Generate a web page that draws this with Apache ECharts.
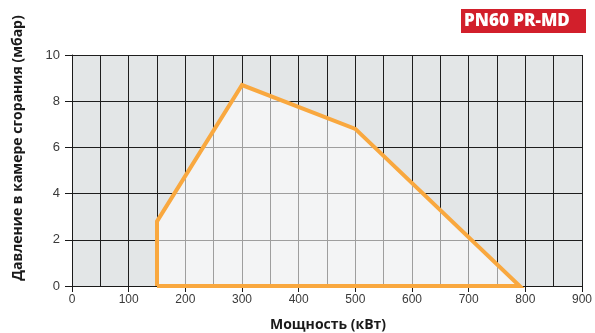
<!DOCTYPE html>
<html>
<head>
<meta charset="utf-8">
<script src="https://cdn.jsdelivr.net/npm/echarts@6/dist/echarts.min.js"></script>
<style>
  html, body { margin: 0; padding: 0; background: #ffffff; }
  #chart { width: 595px; height: 333px; }
</style>
</head>
<body>
<div id="chart"></div>
<script>
// Working field of the burner: output (kW) vs. combustion chamber pressure (mbar)
const powerKW = [150, 150, 300, 500, 790, 150];
const pressureMbar = [0, 2.8, 8.7, 6.8, 0, 0];
const xTicks = [0, 100, 200, 300, 400, 500, 600, 700, 800, 900];
const yTicks = [0, 2, 4, 6, 8, 10];
const modelName = 'PN60 PR-MD';
const xTitle = 'Мощность (кВт)';
const yTitle = 'Давление в камере сгорания (мбар)';

const fieldPoints = powerKW.map((p, i) => [p, pressureMbar[i]]);

const chart = echarts.init(document.getElementById('chart'), null, { renderer: 'canvas' });

chart.setOption({
  animation: false,
  backgroundColor: '#ffffff',
  grid: {
    left: 72, right: 11, top: 55, bottom: 47,
    show: true, backgroundColor: '#e3e6e7', borderWidth: 0
  },
  xAxis: {
    type: 'value',
    min: xTicks[0], max: xTicks[xTicks.length - 1], interval: 100,
    axisLine: { show: true, lineStyle: { color: '#1a1a1a', width: 1 } },
    axisTick: { show: true, length: 6, lineStyle: { color: '#1a1a1a' } },
    axisLabel: { color: '#3a3a3a', fontFamily: 'Liberation Sans', fontSize: 12, margin: 8 },
    splitLine: { show: true, lineStyle: { color: '#1e1e1e', width: 1 } },
    minorTick: { show: false, splitNumber: 2 },
    minorSplitLine: { show: true, lineStyle: { color: '#1e1e1e', width: 1 } }
  },
  yAxis: {
    type: 'value',
    min: yTicks[0], max: yTicks[yTicks.length - 1], interval: 2,
    axisLine: { show: true, lineStyle: { color: '#1a1a1a', width: 1 } },
    axisTick: { show: true, length: 7, lineStyle: { color: '#1a1a1a' } },
    axisLabel: { color: '#3a3a3a', fontFamily: 'Liberation Sans', fontSize: 13, margin: 12 },
    splitLine: { show: true, lineStyle: { color: '#1e1e1e', width: 1 } }
  },
  series: [{
    type: 'line',
    data: fieldPoints,
    symbol: 'none',
    lineStyle: { color: '#f9a83f', width: 4, join: 'miter' },
    areaStyle: { color: 'rgba(255,255,255,0.82)', origin: 'start' },
    z: 5
  }],
  graphic: [
    {
      type: 'rect',
      shape: { x: 461, y: 9, width: 125, height: 24 },
      style: { fill: '#d21f2b' }
    },
    {
      type: 'text',
      x: 464, y: 21,
      style: {
        text: modelName, fill: '#ffffff',
        font: '800 17px "Open Sans"',
        textAlign: 'left', textVerticalAlign: 'middle'
      }
    },
    {
      type: 'text',
      x: 328, y: 325,
      style: {
        text: xTitle, fill: '#1a1a1a',
        font: 'bold 14px "Open Sans"',
        textAlign: 'center', textVerticalAlign: 'middle'
      }
    },
    {
      type: 'text',
      x: 18, y: 148,
      rotation: Math.PI / 2,
      style: {
        text: yTitle, fill: '#1a1a1a',
        font: 'bold 14px "Open Sans"',
        textAlign: 'center', textVerticalAlign: 'middle'
      }
    }
  ]
});
</script>
</body>
</html>
